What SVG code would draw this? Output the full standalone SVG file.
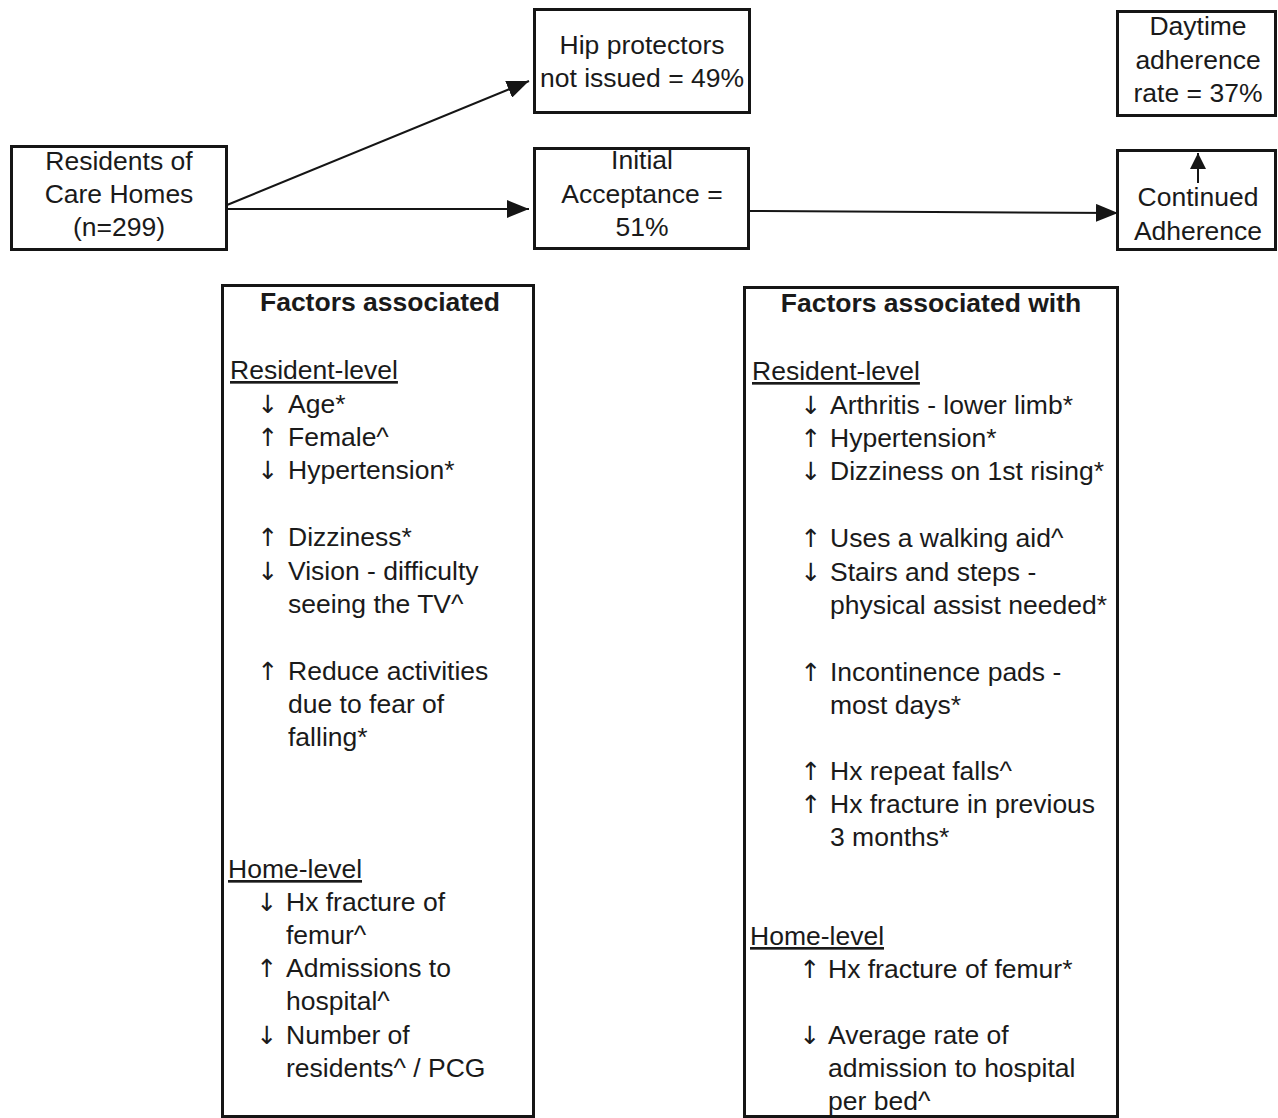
<svg xmlns="http://www.w3.org/2000/svg" width="1278" height="1118" viewBox="0 0 1278 1118">
<defs>
<style>
.box{fill:#fff;stroke:#151515;stroke-width:3}
.t{font-family:"Liberation Sans",Arial,sans-serif;font-size:26.5px;fill:#1a1a1a}
.c{text-anchor:middle}
.b{font-weight:bold}
.u{text-decoration:underline}
.ar{text-anchor:middle;font-family:"DejaVu Sans","Noto Sans",sans-serif;font-size:25px;fill:#1a1a1a}
.conn{stroke:#151515;stroke-width:2;fill:none}
</style>
<marker id="ah" markerUnits="userSpaceOnUse" markerWidth="24" markerHeight="18" refX="22" refY="9" orient="auto">
<path d="M0,0 L22,9 L0,18 Z" fill="#151515"/>
</marker>
<marker id="ahs" markerUnits="userSpaceOnUse" markerWidth="18" markerHeight="16" refX="16" refY="8" orient="auto">
<path d="M0,0 L16,8 L0,16 Z" fill="#151515"/>
</marker>
</defs>
<rect width="1278" height="1118" fill="#fff"/>

<g id="connectors">
<line class="conn" x1="227" y1="205" x2="529" y2="81" marker-end="url(#ah)"/>
<line class="conn" x1="227" y1="209" x2="529" y2="209" marker-end="url(#ah)"/>
<line class="conn" x1="750" y1="211" x2="1118" y2="213" marker-end="url(#ah)"/>
</g>

<g id="residents">
<rect class="box" x="11.5" y="146.5" width="215" height="103"/>
<text class="t c" x="119" y="170">Residents of</text>
<text class="t c" x="119" y="203">Care Homes</text>
<text class="t c" x="119" y="236">(n=299)</text>
</g>

<g id="hip-not-issued">
<rect class="box" x="534.5" y="9.5" width="215" height="103"/>
<text class="t c" x="642" y="54">Hip protectors</text>
<text class="t c" x="642" y="87">not issued = 49%</text>
</g>

<g id="initial-acceptance">
<rect class="box" x="534.5" y="148.5" width="214" height="100"/>
<text class="t c" x="642" y="169">Initial</text>
<text class="t c" x="642" y="203">Acceptance =</text>
<text class="t c" x="642" y="236">51%</text>
</g>

<g id="daytime-adherence">
<rect class="box" x="1117.5" y="11.5" width="158" height="104"/>
<text class="t c" x="1198" y="35">Daytime</text>
<text class="t c" x="1198" y="69">adherence</text>
<text class="t c" x="1198" y="102">rate = 37%</text>
</g>

<g id="continued-adherence">
<rect class="box" x="1117.5" y="150.5" width="158" height="99"/>
<line class="conn" x1="1198" y1="183" x2="1198" y2="153" marker-end="url(#ahs)"/>
<text class="t c" x="1198" y="206">Continued</text>
<text class="t c" x="1198" y="240">Adherence</text>
</g>

<g id="factors-acceptance">
<rect class="box" x="222.5" y="285.5" width="311" height="831"/>
<text class="t c b" x="380" y="311">Factors associated</text>
<text class="t u" x="230" y="379">Resident-level</text>
<text class="ar" x="268" y="413">↓</text><text class="t" x="288" y="413">Age*</text>
<text class="ar" x="268" y="446">↑</text><text class="t" x="288" y="446">Female^</text>
<text class="ar" x="268" y="479">↓</text><text class="t" x="288" y="479">Hypertension*</text>
<text class="ar" x="268" y="546">↑</text><text class="t" x="288" y="546">Dizziness*</text>
<text class="ar" x="268" y="580">↓</text><text class="t" x="288" y="580">Vision - difficulty</text>
<text class="t" x="288" y="613">seeing the TV^</text>
<text class="ar" x="268" y="680">↑</text><text class="t" x="288" y="680">Reduce activities</text>
<text class="t" x="288" y="713">due to fear of</text>
<text class="t" x="288" y="746">falling*</text>
<text class="t u" x="228" y="878">Home-level</text>
<text class="ar" x="267" y="911">↓</text><text class="t" x="286" y="911">Hx fracture of</text>
<text class="t" x="286" y="944">femur^</text>
<text class="ar" x="267" y="977">↑</text><text class="t" x="286" y="977">Admissions to</text>
<text class="t" x="286" y="1010">hospital^</text>
<text class="ar" x="267" y="1044">↓</text><text class="t" x="286" y="1044">Number of</text>
<text class="t" x="286" y="1077">residents^ / PCG</text>
</g>

<g id="factors-adherence">
<rect class="box" x="744.5" y="287.5" width="373" height="829"/>
<text class="t c b" x="931" y="312">Factors associated with</text>
<text class="t u" x="752" y="380">Resident-level</text>
<text class="ar" x="811" y="414">↓</text><text class="t" x="830" y="414">Arthritis - lower limb*</text>
<text class="ar" x="811" y="447">↑</text><text class="t" x="830" y="447">Hypertension*</text>
<text class="ar" x="811" y="480">↓</text><text class="t" x="830" y="480">Dizziness on 1st rising*</text>
<text class="ar" x="811" y="547">↑</text><text class="t" x="830" y="547">Uses a walking aid^</text>
<text class="ar" x="811" y="581">↓</text><text class="t" x="830" y="581">Stairs and steps -</text>
<text class="t" x="830" y="614">physical assist needed*</text>
<text class="ar" x="811" y="681">↑</text><text class="t" x="830" y="681">Incontinence pads -</text>
<text class="t" x="830" y="714">most days*</text>
<text class="ar" x="811" y="780">↑</text><text class="t" x="830" y="780">Hx repeat falls^</text>
<text class="ar" x="811" y="813">↑</text><text class="t" x="830" y="813">Hx fracture in previous</text>
<text class="t" x="830" y="846">3 months*</text>
<text class="t u" x="750" y="945">Home-level</text>
<text class="ar" x="810" y="978">↑</text><text class="t" x="828" y="978">Hx fracture of femur*</text>
<text class="ar" x="810" y="1044">↓</text><text class="t" x="828" y="1044">Average rate of</text>
<text class="t" x="828" y="1077">admission to hospital</text>
<text class="t" x="828" y="1110">per bed^</text>
</g>
</svg>
